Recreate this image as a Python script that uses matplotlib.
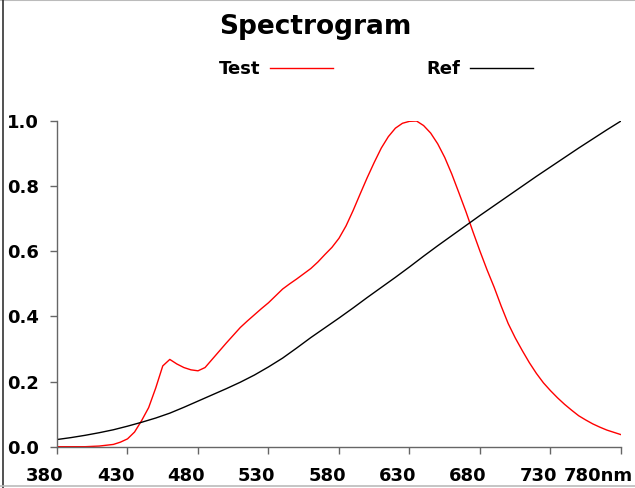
import numpy as np
import matplotlib
matplotlib.use("Agg")
import matplotlib.pyplot as plt
from matplotlib.lines import Line2D

# wavelength (nm) and relative intensity
test_nm = [380, 400, 410, 420, 425, 430, 435, 440, 445, 450, 455, 460, 465,
           470, 475, 480, 485, 490, 495, 500, 505, 510, 515, 520, 525, 530,
           535, 540, 545, 550, 555, 560, 565, 570, 575, 580, 585, 590, 595,
           600, 605, 610, 615, 620, 625, 630, 635, 640, 645, 650, 655, 660,
           665, 670, 675, 680, 685, 690, 695, 700, 705, 710, 715, 720, 725,
           730, 735, 740, 745, 750, 755, 760, 765, 770, 775, 780]
test_val = [0.0, 0.0, 0.002, 0.007, 0.014, 0.024, 0.045, 0.08, 0.12, 0.18,
            0.248, 0.268, 0.254, 0.243, 0.236, 0.233, 0.243, 0.268, 0.293,
            0.318, 0.342, 0.366, 0.386, 0.405, 0.424, 0.442, 0.463, 0.484,
            0.50, 0.515, 0.531, 0.547, 0.567, 0.59, 0.612, 0.64, 0.678, 0.725,
            0.776, 0.826, 0.873, 0.917, 0.952, 0.978, 0.993, 0.999, 1.0,
            0.986, 0.963, 0.93, 0.888, 0.837, 0.78, 0.722, 0.66, 0.60, 0.543,
            0.49, 0.432, 0.378, 0.334, 0.295, 0.258, 0.225, 0.196, 0.172,
            0.15, 0.13, 0.112, 0.095, 0.082, 0.07, 0.06, 0.051, 0.044, 0.037]

ref_nm = [380, 390, 400, 410, 420, 430, 440, 450, 460, 470, 480, 490, 500,
          510, 520, 530, 540, 550, 560, 570, 580, 590, 600, 610, 620, 630,
          640, 650, 660, 670, 680, 690, 700, 710, 720, 730, 740, 750, 760,
          770, 780]
ref_val = [0.022, 0.028, 0.035, 0.043, 0.052, 0.063, 0.075, 0.088, 0.103,
           0.121, 0.140, 0.159, 0.178, 0.198, 0.220, 0.245, 0.272, 0.303,
           0.335, 0.365, 0.395, 0.426, 0.458, 0.489, 0.52, 0.552, 0.585,
           0.617, 0.648, 0.679, 0.71, 0.74, 0.77, 0.80, 0.83, 0.859, 0.888,
           0.917, 0.945, 0.973, 1.0]

xticks = [380, 430, 480, 530, 580, 630, 680, 730, 780]
xlabels = ["380", "430", "480", "530", "580", "630", "680", "730", "780nm"]
yticks = [0.0, 0.2, 0.4, 0.6, 0.8, 1.0]

fig = plt.figure(figsize=(6.35, 4.88), dpi=100)
ax = fig.add_axes([57 / 635, 1 - 446.7 / 488, 564 / 635, 325.7 / 488])

ax.plot(test_nm, test_val, color="#ff0000", lw=1.0, label="Test")
ax.plot(ref_nm, ref_val, color="black", lw=1.0, label="Ref")

ax.set_xlim(380, 780)
ax.set_ylim(0, 1.0)
ax.set_xticks(xticks)
ax.set_xticklabels([])
ax.set_yticks(yticks)
ax.set_yticklabels(["%.1f" % v for v in yticks])
for lab in ax.get_yticklabels():
    lab.set_fontweight("bold")
    lab.set_fontsize(13)

# x labels sit a little left of their ticks; the last one ends past the tick
for i, (t, s) in enumerate(zip(xticks, xlabels)):
    last = i == len(xticks) - 1
    ax.annotate(s, xy=(t, 0), xycoords=("data", "axes fraction"),
                xytext=(12 if last else -12, -34), textcoords="offset pixels",
                ha="right" if last else "center", va="baseline",
                fontsize=13, fontweight="bold", annotation_clip=False)

for side in ["top", "right"]:
    ax.spines[side].set_visible(False)
for side in ["left", "bottom"]:
    ax.spines[side].set_color("#666666")
    ax.spines[side].set_linewidth(1.0)
ax.tick_params(direction="out", length=5, width=1, color="#666666")
ax.tick_params(axis="y", pad=8)

fig.text(0.496, 1 - 27 / 488, "Spectrogram", ha="center", va="center",
         fontsize=19, fontweight="bold")

fig.legend(loc="center left", bbox_to_anchor=(219 / 635, 1 - 69 / 488),
           ncol=2, frameon=False, markerfirst=False, borderpad=0,
           borderaxespad=0, handlelength=3.5, handletextpad=0.5,
           columnspacing=5.2, prop={"weight": "bold", "size": 13})

# outer frame of the picture
fig.add_artist(Line2D([0, 1], [0.999, 0.999], color="#bbbbbb", lw=1.5,
                      transform=fig.transFigure))
fig.add_artist(Line2D([3 / 635, 3 / 635], [0, 1], color="#333333", lw=1.2,
                      transform=fig.transFigure))
fig.add_artist(Line2D([0, 1], [2 / 488, 2 / 488], color="#bbbbbb", lw=1.2,
                      transform=fig.transFigure))

fig.savefig("out.png", dpi=100)
